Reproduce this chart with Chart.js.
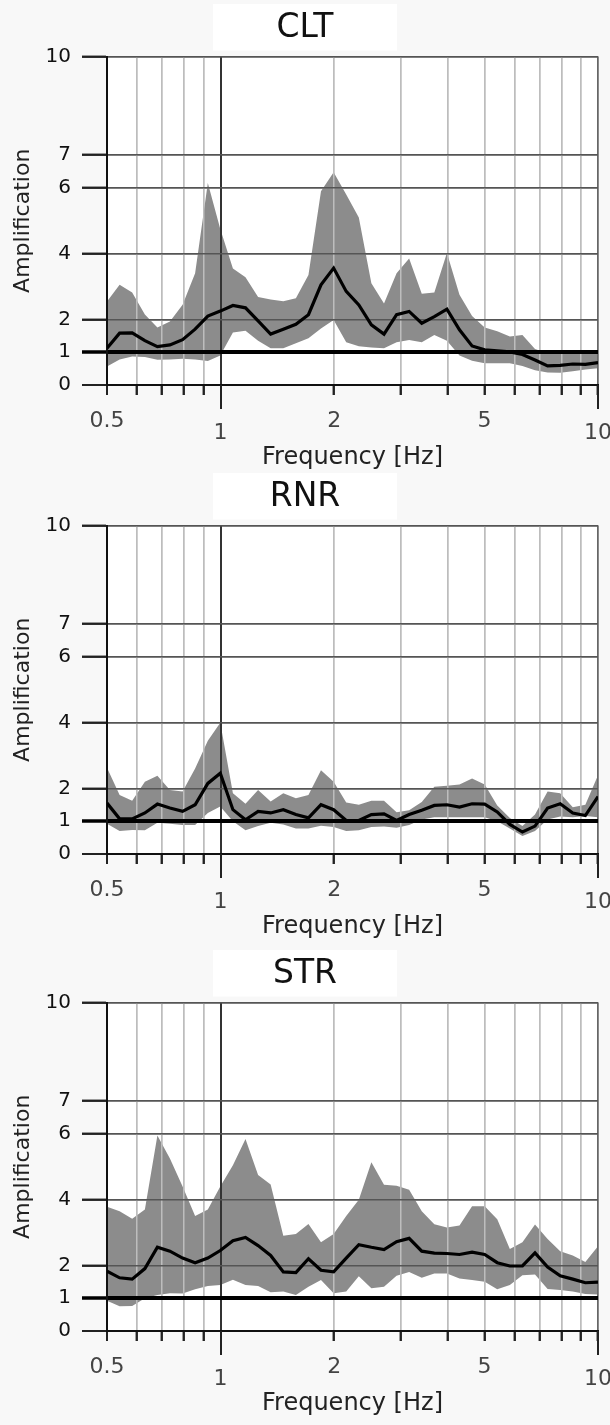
<!DOCTYPE html>
<html>
<head>
<meta charset="utf-8">
<script src="https://cdn.jsdelivr.net/npm/chart.js@4.4.1/dist/chart.umd.min.js"></script>
<style>
  html, body { margin: 0; padding: 0; background: #f8f8f8; }
  #wrap { position: relative; width: 610px; height: 1425px; }
  .panel { position: absolute; left: 0; width: 610px; height: 475px; }
</style>
</head>
<body>
<div id="wrap">
  <div class="panel" style="top:0px"><canvas id="cltChart" width="610" height="475"></canvas></div>
  <div class="panel" style="top:469px"><canvas id="rnrChart" width="610" height="475"></canvas></div>
  <div class="panel" style="top:946px"><canvas id="strChart" width="610" height="475"></canvas></div>
</div>
<script>
// frequencias (Hz), amostragem log entre 0.5 e 10
const frequencies = [0.500, 0.540, 0.583, 0.630, 0.680, 0.734, 0.793, 0.856, 0.925, 0.998,
  1.078, 1.164, 1.257, 1.357, 1.466, 1.583, 1.709, 1.845, 1.993, 2.152,
  2.324, 2.509, 2.710, 2.926, 3.159, 3.412, 3.684, 3.978, 4.295, 4.638,
  5.009, 5.408, 5.840, 6.306, 6.809, 7.353, 7.940, 8.573, 9.257, 10.0];

const cltMean = [1.12, 1.58, 1.59, 1.35, 1.17, 1.22, 1.38, 1.70, 2.10, 2.25,
  2.42, 2.35, 1.95, 1.55, 1.70, 1.85, 2.14, 3.05, 3.56, 2.85,
  2.44, 1.83, 1.55, 2.14, 2.24, 1.88, 2.08, 2.31, 1.68, 1.19,
  1.07, 1.04, 1.01, 0.93, 0.76, 0.58, 0.60, 0.64, 0.63, 0.68];
const cltUpper = [2.54, 3.05, 2.82, 2.15, 1.75, 1.93, 2.44, 3.40, 6.15, 4.75,
  3.55, 3.28, 2.68, 2.60, 2.55, 2.64, 3.35, 5.90, 6.48, 5.80,
  5.10, 3.10, 2.48, 3.40, 3.85, 2.78, 2.82, 4.02, 2.75, 2.10,
  1.75, 1.64, 1.48, 1.52, 1.10, 0.97, 0.95, 0.95, 0.96, 0.98];
const cltLower = [0.56, 0.78, 0.87, 0.85, 0.77, 0.78, 0.80, 0.78, 0.73, 0.90,
  1.60, 1.65, 1.35, 1.12, 1.12, 1.27, 1.42, 1.72, 1.98, 1.30,
  1.18, 1.14, 1.12, 1.30, 1.37, 1.30, 1.52, 1.35, 0.90, 0.74,
  0.66, 0.66, 0.66, 0.58, 0.45, 0.38, 0.37, 0.42, 0.47, 0.51];

const rnrMean = [1.55, 1.07, 1.07, 1.25, 1.52, 1.40, 1.30, 1.50, 2.15, 2.46,
  1.35, 1.04, 1.30, 1.25, 1.35, 1.20, 1.10, 1.50, 1.35, 1.02,
  1.02, 1.20, 1.22, 1.02, 1.20, 1.33, 1.48, 1.50, 1.43, 1.53,
  1.52, 1.28, 0.90, 0.67, 0.85, 1.40, 1.53, 1.25, 1.17, 1.75];
const rnrUpper = [2.63, 1.80, 1.62, 2.20, 2.38, 1.95, 1.90, 2.60, 3.45, 4.00,
  1.85, 1.53, 1.95, 1.60, 1.85, 1.70, 1.80, 2.55, 2.20, 1.57,
  1.50, 1.62, 1.62, 1.27, 1.33, 1.58, 2.05, 2.08, 2.12, 2.30,
  2.12, 1.48, 1.10, 0.85, 1.20, 1.90, 1.85, 1.42, 1.50, 2.40];
const rnrLower = [0.92, 0.70, 0.73, 0.72, 0.95, 0.92, 0.88, 0.88, 1.25, 1.45,
  1.00, 0.72, 0.85, 0.95, 0.90, 0.78, 0.78, 0.86, 0.82, 0.70,
  0.72, 0.82, 0.84, 0.80, 0.88, 1.05, 1.12, 1.12, 1.12, 1.12,
  1.12, 1.00, 0.78, 0.55, 0.70, 1.05, 1.14, 1.12, 1.16, 1.12];

const strMean = [1.82, 1.62, 1.58, 1.90, 2.55, 2.43, 2.22, 2.08, 2.22, 2.45,
  2.75, 2.85, 2.60, 2.30, 1.80, 1.78, 2.20, 1.85, 1.80, 2.22,
  2.63, 2.55, 2.48, 2.72, 2.82, 2.43, 2.37, 2.36, 2.33, 2.40,
  2.33, 2.08, 1.98, 1.98, 2.38, 1.95, 1.68, 1.58, 1.47, 1.49];
const strUpper = [3.78, 3.65, 3.42, 3.70, 5.95, 5.25, 4.40, 3.50, 3.70, 4.40,
  5.05, 5.85, 4.75, 4.46, 2.90, 2.95, 3.26, 2.70, 2.95, 3.50,
  4.00, 5.14, 4.45, 4.42, 4.30, 3.65, 3.25, 3.15, 3.21, 3.80,
  3.80, 3.40, 2.50, 2.70, 3.24, 2.80, 2.43, 2.30, 2.10, 2.58];
const strLower = [0.92, 0.75, 0.76, 1.00, 1.10, 1.15, 1.14, 1.27, 1.37, 1.40,
  1.56, 1.40, 1.37, 1.18, 1.20, 1.10, 1.35, 1.55, 1.15, 1.20,
  1.67, 1.30, 1.35, 1.68, 1.80, 1.62, 1.75, 1.75, 1.60, 1.55,
  1.50, 1.27, 1.40, 1.70, 1.72, 1.28, 1.25, 1.20, 1.13, 1.11];

// eixos
const xTicks = [0.5, 0.6, 0.7, 0.8, 0.9, 1, 2, 3, 4, 5, 6, 7, 8, 9, 10];
const xLabelled = [0.5, 1, 2, 5, 10];
const xLowered = [1, 10];
const yTicks = [0, 1, 2, 4, 6, 7, 10];

const FONT = 'DejaVu Sans';

const panelDecor = {
  id: 'panelDecor',
  beforeDraw(chart) {
    const ctx = chart.ctx;
    const a = chart.chartArea;
    const t = chart.titleBlock;
    ctx.save();
    ctx.fillStyle = '#ffffff';
    const cx = (t.left + t.right) / 2;
    ctx.fillRect(cx - 92, t.top + 4, 184, t.height - 10);
    ctx.fillRect(a.left, a.top, a.right - a.left, a.bottom - a.top);
    ctx.restore();
  },
  afterDatasetDraw(chart, args) {
    // grade por cima da faixa cinza
    if (args.index !== 1) return;
    const area = chart.chartArea;
    chart.scales.x.drawGrid(area);
    chart.scales.y.drawGrid(area);
    chart.scales.x.drawBorder();
    chart.scales.y.drawBorder();
  },
  afterDraw(chart) {
    // ticks compridos em 1 e 10
    const ctx = chart.ctx;
    const x = chart.scales.x;
    const bottom = chart.chartArea.bottom;
    ctx.save();
    ctx.strokeStyle = '#222';
    ctx.lineWidth = 2;
    xLowered.forEach(v => {
      const px = Math.round(x.getPixelForValue(v));
      ctx.beginPath();
      ctx.moveTo(px, bottom);
      ctx.lineTo(px, bottom + 24);
      ctx.stroke();
    });
    ctx.restore();
  }
};

function toPoints(values) {
  return frequencies.map((f, i) => ({ x: f, y: values[i] }));
}

function makePanel(canvasId, title, mean, lower, upper) {
  const ctx = document.getElementById(canvasId).getContext('2d');
  return new Chart(ctx, {
    type: 'line',
    data: {
      datasets: [
        {
          label: 'Mean',
          data: toPoints(mean),
          borderColor: '#000000',
          borderWidth: 3.2,
          pointRadius: 0,
          tension: 0,
          fill: false
        },
        {
          label: 'Lower',
          data: toPoints(lower),
          borderWidth: 0,
          borderColor: 'rgba(0,0,0,0)',
          pointRadius: 0,
          fill: false
        },
        {
          label: 'Upper',
          data: toPoints(upper),
          borderWidth: 0,
          borderColor: 'rgba(0,0,0,0)',
          backgroundColor: '#8c8c8c',
          pointRadius: 0,
          fill: '-1'
        }
      ]
    },
    options: {
      responsive: false,
      animation: false,
      devicePixelRatio: 1,
      layout: { padding: 0 },
      plugins: {
        legend: { display: false },
        tooltip: { enabled: false },
        title: {
          display: true,
          text: title,
          color: '#111',
          font: { family: FONT, size: 33, weight: 'normal' },
          padding: { top: 9, bottom: 8 }
        }
      },
      scales: {
        x: {
          type: 'logarithmic',
          min: 0.5,
          max: 10,
          afterBuildTicks: scale => { scale.ticks = xTicks.map(v => ({ value: v })); },
          afterFit: scale => { scale.height = 90; scale.paddingRight = 12; },
          grid: {
            color: c => {
              const v = c.tick && c.tick.value;
              if (v === 0.5) return '#111';
              if (v === 1) return '#333';
              if (v === 10) return '#666';
              return '#bdbdbd';
            },
            lineWidth: c => (c.tick && (c.tick.value === 0.5 || c.tick.value === 1)) ? 2 : 1.5,
            tickColor: '#222',
            tickWidth: 2,
            tickLength: 10
          },
          border: { color: '#111', width: 2 },
          ticks: {
            autoSkip: false,
            maxRotation: 0,
            minRotation: 0,
            padding: 13,
            color: '#444',
            font: c => ({
              family: FONT,
              size: 22,
              lineHeight: (c.tick && xLowered.includes(c.tick.value)) ? 0.78 : 1.2
            }),
            callback: v => {
              if (!xLabelled.includes(v)) return '';
              return xLowered.includes(v) ? ['', String(v)] : String(v);
            }
          },
          title: {
            display: true,
            text: 'Frequency [Hz]',
            color: '#222',
            font: { family: FONT, size: 24 },
            padding: { top: 0, bottom: 3 }
          }
        },
        y: {
          type: 'linear',
          min: 0,
          max: 10,
          afterBuildTicks: scale => { scale.ticks = yTicks.map(v => ({ value: v })); },
          afterFit: scale => { scale.width = 107; },
          grid: {
            color: c => {
              const v = c.tick && c.tick.value;
              if (v === 1) return '#000';
              if (v === 0) return '#111';
              return '#555';
            },
            lineWidth: c => {
              const v = c.tick && c.tick.value;
              if (v === 1) return 4;
              if (v === 0) return 2;
              return 1.5;
            },
            tickColor: c => (c.tick && c.tick.value === 1) ? '#000' : '#222',
            tickWidth: c => (c.tick && c.tick.value === 1) ? 3 : 2,
            tickLength: 25
          },
          border: { color: '#111', width: 2 },
          ticks: {
            padding: 11,
            color: '#111',
            font: { family: FONT, size: 20 },
            callback: v => String(v)
          },
          title: {
            display: true,
            text: 'Amplification',
            color: '#222',
            font: { family: FONT, size: 22 },
            padding: { top: 10, bottom: 0 }
          }
        }
      }
    },
    plugins: [panelDecor]
  });
}

makePanel('cltChart', 'CLT', cltMean, cltLower, cltUpper);
makePanel('rnrChart', 'RNR', rnrMean, rnrLower, rnrUpper);
makePanel('strChart', 'STR', strMean, strLower, strUpper);
</script>
</body>
</html>
